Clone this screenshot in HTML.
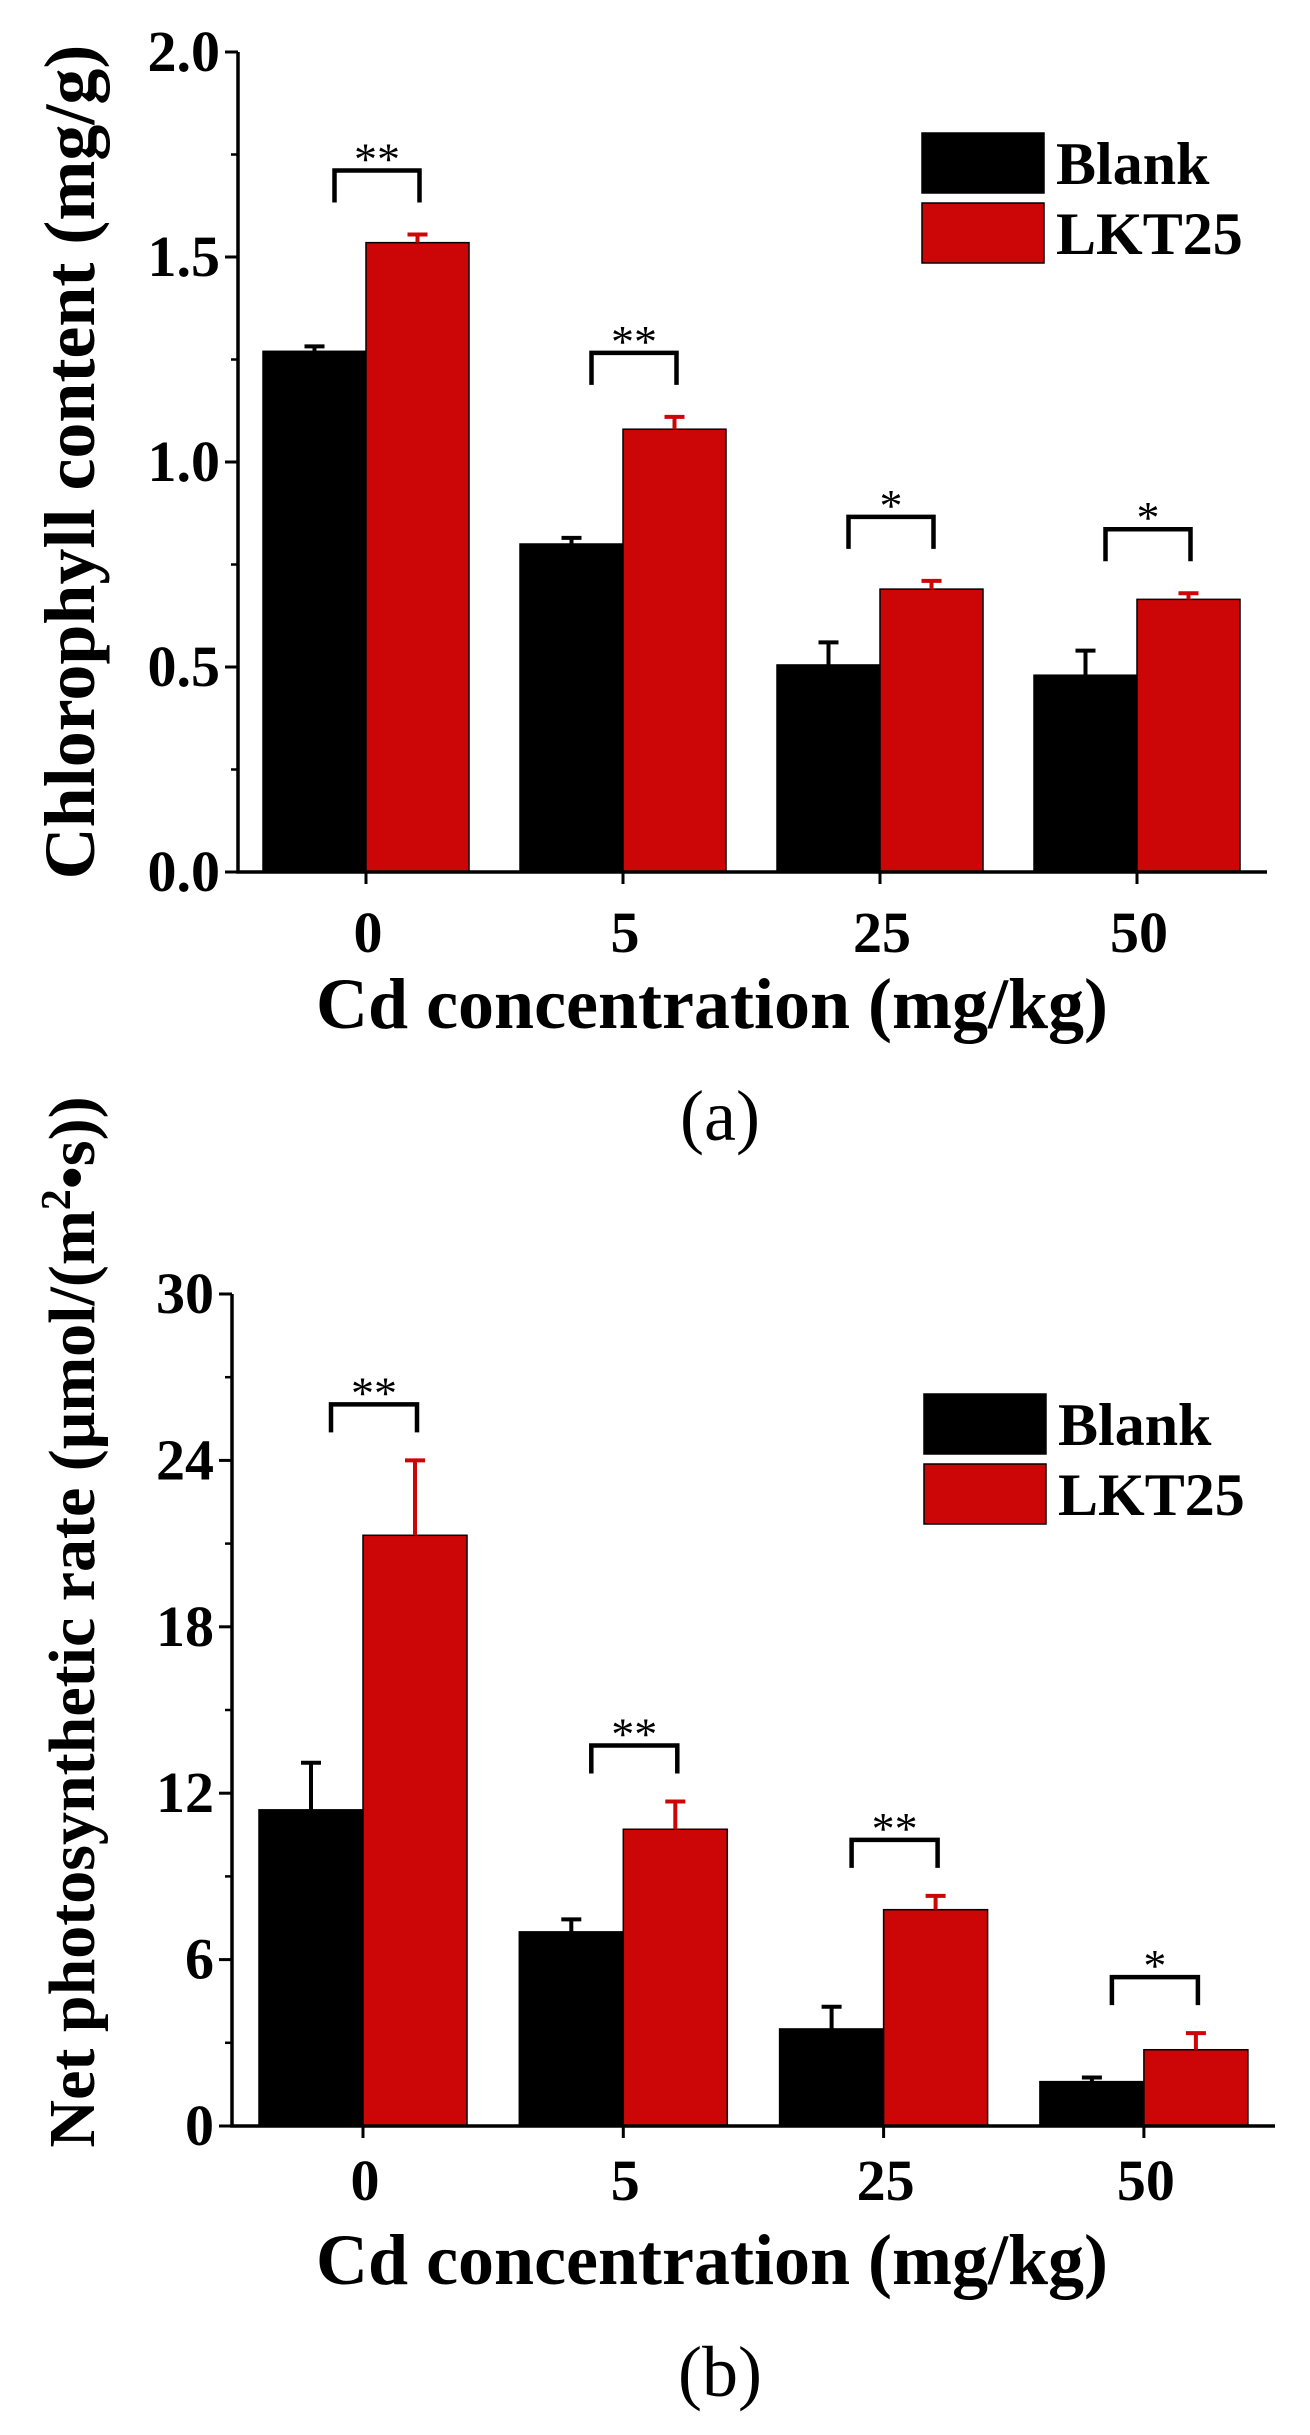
<!DOCTYPE html>
<html><head><meta charset="utf-8"><style>
html,body{margin:0;padding:0;background:#fff}
svg{display:block}
text{font-family:"Liberation Serif",serif;font-weight:bold;fill:#000}
</style></head><body>
<svg id="root" width="1310" height="2435" viewBox="0 0 1310 2435" xmlns="http://www.w3.org/2000/svg"></svg>
<script>
const categories = ["0","5","25","50"];
const chlBlank = [1.27,0.80,0.505,0.48];
const chlBlankErr = [0.012,0.015,0.055,0.06];
const chlLkt = [1.535,1.08,0.69,0.665];
const chlLktErr = [0.02,0.03,0.02,0.015];
const chlSig = ["**","**","*","*"];
const chlTicks = ["0.0","0.5","1.0","1.5","2.0"];
const pnBlank = [11.4,7.0,3.5,1.6];
const pnBlankErr = [1.7,0.45,0.8,0.15];
const pnLkt = [21.3,10.7,7.8,2.75];
const pnLktErr = [2.7,1.0,0.5,0.6];
const pnSig = ["**","**","**","*"];
const pnTicks = ["0","6","12","18","24","30"];

const NS="http://www.w3.org/2000/svg";
const root=document.getElementById('root');
function mk(tag,attrs,parent){const e=document.createElementNS(NS,tag);for(const k in attrs)e.setAttribute(k,attrs[k]);(parent||root).appendChild(e);return e;}

function chart(cfg){
  const g=mk('g',{});
  
  
  const ymax=cfg.ymax;
  const Y=v=>cfg.y0-(cfg.y0-cfg.y1)*v/ymax;
  const X=i=>cfg.cx0+i*cfg.step;
  const bw=cfg.bw;
  categories.forEach((c,i)=>{
    const cx=X(i);
    const bb=mk('rect',{x:cx-bw,y:Y(cfg.blank[i]),width:bw,height:cfg.y0-Y(cfg.blank[i]),fill:'#000',stroke:'#000','stroke-width':1.5},g);
    
    
    const eb=mk('path',{d:`M${cx-bw/2} ${Y(cfg.blank[i])}V${Y(cfg.blank[i]+cfg.blankErr[i])}M${cx-bw/2-10} ${Y(cfg.blank[i]+cfg.blankErr[i])}H${cx-bw/2+10}`,stroke:'#000','stroke-width':4,fill:'none'},g);
    
    
    const rb=mk('rect',{x:cx,y:Y(cfg.lkt[i]),width:bw,height:cfg.y0-Y(cfg.lkt[i]),fill:'#cc0606',stroke:'#000','stroke-width':1.5},g);
    
    
    const er=mk('path',{d:`M${cx+bw/2} ${Y(cfg.lkt[i])}V${Y(cfg.lkt[i]+cfg.lktErr[i])}M${cx+bw/2-10} ${Y(cfg.lkt[i]+cfg.lktErr[i])}H${cx+bw/2+10}`,stroke:'#cc0606','stroke-width':4,fill:'none'},g);
    
    
    const top=Math.max(cfg.blank[i]+cfg.blankErr[i],cfg.lkt[i]+cfg.lktErr[i]);
    const yb=Y(top)-cfg.gap, yt=yb-cfg.bh;
    const xl=cx-bw/2+20, xr=cx+bw/2+2;
    const br=mk('path',{d:`M${xl} ${yb}V${yt}H${xr}V${yb}`,stroke:'#000','stroke-width':4.5,fill:'none'},g);
    
    
    const st=mk('text',{x:(xl+xr)/2,y:yt+4,'text-anchor':'middle','font-size':46,style:'font-weight:normal'},g);
    st.textContent=cfg.sig[i];
    
    
    mk('line',{x1:cx,x2:cx,y1:cfg.y0,y2:cfg.y0+12,stroke:'#000','stroke-width':3},g);
    const tl=mk('text',{x:cx+2,y:cfg.xlabY,'text-anchor':'middle','font-size':58},g);
    tl.textContent=c;
    
    
  });
  const ax=mk('path',{d:`M${cfg.ax} ${cfg.y1}V${cfg.y0}H${cfg.axEnd}`,stroke:'#000','stroke-width':3.5,fill:'none'},g);
  
  
  const n=cfg.ticks.length-1;
  for(let k=0;k<=n;k++){
    const v=ymax*k/n, y=Y(v);
    mk('line',{x1:cfg.ax-13,x2:cfg.ax,y1:y,y2:y,stroke:'#000','stroke-width':3},g);
    if(k<n){const ym=Y(v+ymax/n/2);mk('line',{x1:cfg.ax-7,x2:cfg.ax,y1:ym,y2:ym,stroke:'#000','stroke-width':2.5},g);}
    const t=mk('text',{x:cfg.ax-18,y:y+19,'text-anchor':'end','font-size':58},g);
    t.textContent=cfg.ticks[k];
    
    
  }
  const lg=mk('g',{},g);
  
  
  mk('rect',{x:cfg.lx,y:cfg.ly,width:122,height:60,fill:'#000',stroke:'#000','stroke-width':1.5},lg);
  mk('rect',{x:cfg.lx,y:cfg.ly+70,width:122,height:60,fill:'#cc0606',stroke:'#000','stroke-width':1.5},lg);
  const t1=mk('text',{x:cfg.lx+134,y:cfg.ly+51,'font-size':60},lg);t1.textContent='Blank';
  
  
  const t2=mk('text',{x:cfg.lx+134,y:cfg.ly+121,'font-size':60},lg);t2.textContent='LKT25';
  
  
  const xt=mk('text',{x:712,y:cfg.xtY,'text-anchor':'middle','font-size':72},g);
  xt.textContent='Cd concentration (mg/kg)';
  
  
  const yt=mk('text',{x:0,y:0,'text-anchor':'middle','font-size':cfg.ytSize,transform:`translate(${cfg.ytX},${cfg.ytY}) rotate(-90)`},g);
  yt.innerHTML=cfg.ytitle;
  
  
  const pl=mk('text',{x:720,y:cfg.plY,'text-anchor':'middle','font-size':72,style:'font-weight:normal'},g);
  pl.textContent=cfg.panel;
  
  
}

chart({name:'chart-chlorophyll',ymax:2,y0:872,y1:52,cx0:366,step:257,bw:103,ax:238,axEnd:1267,
  blank:chlBlank,blankErr:chlBlankErr,lkt:chlLkt,lktErr:chlLktErr,sig:chlSig,ticks:chlTicks,
  gap:32,bh:32,xlabY:952,lx:922,ly:133,xtY:1028,ytX:94,ytY:462,ytSize:72,
  ytitle:'Chlorophyll content (mg/g)',panel:'(a)',plY:1140});
chart({name:'chart-photosynthesis',ymax:30,y0:2126,y1:1294,cx0:363,step:260.3,bw:104,ax:232,axEnd:1275,
  blank:pnBlank,blankErr:pnBlankErr,lkt:pnLkt,lktErr:pnLktErr,sig:pnSig,ticks:pnTicks,
  gap:28,bh:28,xlabY:2200,lx:924,ly:1394,xtY:2284,ytX:94,ytY:1622,ytSize:66,
  ytitle:'Net photosynthetic rate (μmol/(m<tspan dy="-24" font-size="42">2</tspan><tspan dy="24">•s))</tspan>',panel:'(b)',plY:2396});
</script>
</body></html>
